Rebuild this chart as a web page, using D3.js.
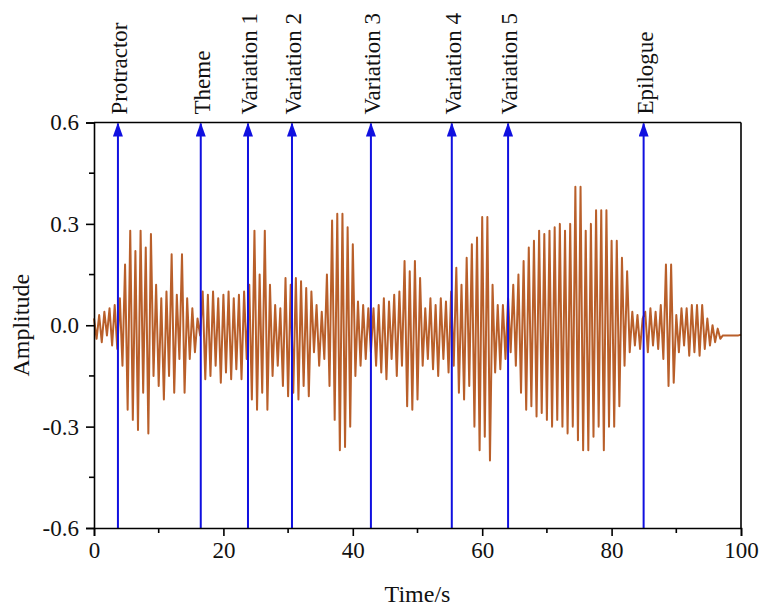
<!DOCTYPE html>
<html>
<head>
<meta charset="utf-8">
<script src="https://cdn.jsdelivr.net/npm/d3@7"></script>
<style>
    body { margin: 0; background: #fff; }
    svg text { font-family: "Liberation Serif", "Times New Roman", serif; fill: #111; }
</style>
</head>
<body>
<div id="chart"></div>
<script>
const sampleStart = 0;
const sampleStep = 0.4;
const amplitude = [
    0.02, -0.04, 0.03, -0.05, 0.04, -0.03, 0.05, -0.06, 0.06, -0.07,
    0.08, -0.12, 0.18, -0.25, 0.28, -0.28, 0.22, -0.31, 0.28, -0.20,
    0.23, -0.32, 0.27, -0.15, 0.12, -0.18, 0.08, -0.22, 0.10, -0.15,
    0.21, -0.20, 0.09, -0.10, 0.21, -0.20, 0.08, -0.10, 0.05, -0.08,
    0.02, -0.03, 0.10, -0.16, 0.09, -0.15, 0.10, -0.12, 0.08, -0.17,
    0.09, -0.14, 0.10, -0.16, 0.08, -0.13, 0.09, -0.16, 0.10, -0.10,
    0.12, -0.22, 0.28, -0.25, 0.15, -0.20, 0.28, -0.25, 0.12, -0.15,
    0.06, -0.12, 0.05, -0.18, 0.14, -0.21, 0.12, -0.20, 0.14, -0.22,
    0.13, -0.18, 0.11, -0.21, 0.10, -0.08, 0.06, -0.12, 0.04, -0.10,
    0.15, -0.18, 0.31, -0.28, 0.33, -0.37, 0.33, -0.36, 0.29, -0.30,
    0.24, -0.15, 0.07, -0.12, 0.06, -0.10, 0.05, -0.08, 0.05, -0.12,
    0.06, -0.14, 0.08, -0.16, 0.07, -0.10, 0.09, -0.15, 0.10, -0.12,
    0.19, -0.24, 0.16, -0.25, 0.19, -0.22, 0.14, -0.12, 0.05, -0.10,
    0.08, -0.13, 0.06, -0.15, 0.08, -0.10, 0.07, -0.14, 0.10, -0.12,
    0.17, -0.20, 0.12, -0.22, 0.20, -0.18, 0.24, -0.30, 0.26, -0.37,
    0.32, -0.33, 0.32, -0.40, 0.12, -0.14, 0.06, -0.13, 0.06, -0.10,
    0.08, -0.08, 0.12, -0.12, 0.15, -0.20, 0.19, -0.25, 0.23, -0.24,
    0.25, -0.27, 0.28, -0.26, 0.27, -0.28, 0.28, -0.30, 0.29, -0.28,
    0.30, -0.30, 0.28, -0.32, 0.30, -0.30, 0.41, -0.34, 0.41, -0.37,
    0.28, -0.37, 0.30, -0.33, 0.34, -0.30, 0.34, -0.37, 0.34, -0.30,
    0.25, -0.30, 0.25, -0.24, 0.20, -0.12, 0.16, -0.08, 0.04, -0.06,
    0.03, -0.07, 0.02, 0.04, -0.08, 0.05, -0.06, 0.04, -0.07, 0.06,
    -0.10, 0.18, -0.18, 0.18, -0.17, 0.03, -0.08, 0.05, -0.06, 0.05,
    -0.09, 0.06, -0.08, 0.06, -0.09, 0.06, -0.07, 0.02, -0.06, 0.00,
    -0.05, -0.01, -0.04, -0.03, -0.03, -0.03, -0.03, -0.03, -0.03, -0.03,
    -0.028
];

/* section markers */
const sectionNames = ['Protractor', 'Theme', 'Variation 1', 'Variation 2', 'Variation 3', 'Variation 4', 'Variation 5', 'Epilogue'];
const sectionTimes = [3.7, 16.5, 23.8, 30.6, 42.8, 55.3, 64.0, 84.95];

const xTicks = [0, 20, 40, 60, 80, 100];
const xMinorTicks = [10, 30, 50, 70, 90];
const yTicks = [-0.6, -0.3, 0.0, 0.3, 0.6];
const yMinorTicks = [-0.45, -0.15, 0.15, 0.45];

const wSvg = 764;
const hSvg = 612;
const margin = {
    left: 94,
    right: 23,
    top: 122.5,
    bottom: 84
};
const wViz = wSvg - margin.left - margin.right;
const hViz = hSvg - margin.top - margin.bottom;

const svg = d3.select('#chart').append('svg')
    .attr('width', wSvg)
    .attr('height', hSvg);

const xScale = d3.scaleLinear([0, 100], [margin.left, margin.left + wViz]);
const yScale = d3.scaleLinear([-0.6, 0.6], [margin.top + hViz, margin.top]);

const data = amplitude.map((a, i) => ({ t: sampleStart + i * sampleStep, a: a }));

// waveform
const line = d3.line()
    .x(d => xScale(d.t))
    .y(d => yScale(d.a));

svg.append('path')
    .datum(data)
    .attr('d', line)
    .attr('fill', 'none')
    .attr('stroke', '#b95f2a')
    .attr('stroke-width', 2)
    .attr('stroke-linejoin', 'round');

// arrows (head drawn pointing along +x, marker turns it with the line)
svg.append('defs').append('marker')
    .attr('id', 'head')
    .attr('viewBox', '0 0 14 10')
    .attr('refX', 13)
    .attr('refY', 5)
    .attr('markerWidth', 14)
    .attr('markerHeight', 10)
    .attr('markerUnits', 'userSpaceOnUse')
    .attr('orient', 'auto')
    .append('path')
        .attr('d', 'M0,0 L14,5 L0,10 Z')
        .attr('fill', '#1010e0');

const markers = svg.append('g');
sectionTimes.forEach((t, i) => {
    markers.append('line')
        .attr('x1', xScale(t))
        .attr('x2', xScale(t))
        .attr('y1', yScale(-0.6))
        .attr('y2', yScale(0.6) + 1)
        .attr('stroke', '#1010e0')
        .attr('stroke-width', 2)
        .attr('marker-end', 'url(#head)');

    markers.append('text')
        .attr('transform', `translate(${xScale(t)}, ${yScale(0.6) - 8}) rotate(-90)`)
        .attr('x', 0)
        .attr('y', 9)
        .attr('font-size', 23)
        .text(sectionNames[i]);
});

const fmtY = d => d3.format('.1f')(d).replace('−', '-');

// axes
const xAxis = svg.append('g')
    .attr('transform', `translate(0, ${yScale(-0.6)})`)
    .call(d3.axisBottom(xScale).tickValues(xTicks).tickSize(8).tickPadding(6).tickFormat(d3.format('d')));
xAxis.append('g')
    .selectAll('line')
    .data(xMinorTicks)
    .enter()
    .append('line')
        .attr('x1', d => xScale(d))
        .attr('x2', d => xScale(d))
        .attr('y1', 0)
        .attr('y2', 5)
        .attr('stroke', '#000');

const yAxis = svg.append('g')
    .attr('transform', `translate(${margin.left}, 0)`)
    .call(d3.axisLeft(yScale).tickValues(yTicks).tickSize(8).tickPadding(7).tickFormat(fmtY));
yAxis.append('g')
    .selectAll('line')
    .data(yMinorTicks)
    .enter()
    .append('line')
        .attr('y1', d => yScale(d))
        .attr('y2', d => yScale(d))
        .attr('x1', 0)
        .attr('x2', -5)
        .attr('stroke', '#000');

[xAxis, yAxis].forEach(ax => {
    ax.selectAll('path.domain').attr('stroke', '#000').attr('stroke-width', 1.6);
    ax.selectAll('line').attr('stroke-width', 1.6);
    ax.selectAll('text')
        .attr('font-size', 23)
        .attr('fill', '#111');
});

// top and right frame
svg.append('line')
    .attr('x1', xScale(0)).attr('x2', xScale(100))
    .attr('y1', yScale(0.6)).attr('y2', yScale(0.6))
    .attr('stroke', '#000').attr('stroke-width', 1.6);
svg.append('line')
    .attr('x1', xScale(100)).attr('x2', xScale(100))
    .attr('y1', yScale(0.6)).attr('y2', yScale(-0.6))
    .attr('stroke', '#000').attr('stroke-width', 1.6);

// axis titles
svg.append('text')
    .attr('x', margin.left + wViz / 2)
    .attr('y', 602)
    .attr('text-anchor', 'middle')
    .attr('font-size', 24)
    .text('Time/s');

svg.append('text')
    .attr('transform', `translate(29, ${yScale(0)}) rotate(-90)`)
    .attr('text-anchor', 'middle')
    .attr('font-size', 24)
    .text('Amplitude');
</script>
</body>
</html>
